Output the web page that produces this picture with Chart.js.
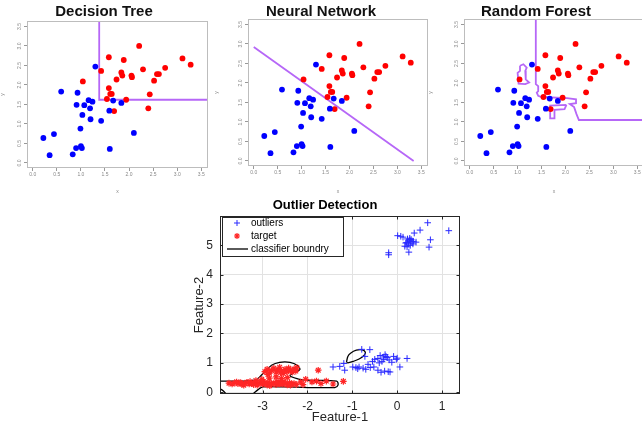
<!DOCTYPE html>
<html>
<head>
<meta charset="utf-8">
<script src="https://cdn.jsdelivr.net/npm/chart.js@4.4.1/dist/chart.umd.min.js"></script>
<style>
  html, body { margin: 0; padding: 0; background: #fff; overflow: hidden; }
  body { width: 642px; height: 424px; position: relative; }
  canvas { position: absolute; }
</style>
</head>
<body>
<canvas id="tree" width="224" height="195" style="left:0;top:0"></canvas>
<canvas id="net" width="243" height="195" style="left:214px;top:0"></canvas>
<canvas id="forest" width="243" height="195" style="left:428px;top:0"></canvas>
<canvas id="outlier" width="278" height="229" style="left:190px;top:195px"></canvas>
<script>
// ---- top three panels: same two classes ----
const axisTicks = [0, 0.5, 1, 1.5, 2, 2.5, 3, 3.5];

const blueX = [1.30, 0.59, 0.93, 1.16, 1.24, 0.91, 1.07, 1.19, 1.03, 1.20, 1.42, 0.99, 0.22, 0.44, 0.90, 1.00, 1.02, 0.35, 0.83, 1.60, 2.10, 1.59, 1.67, 1.84];
const blueY = [2.47, 1.83, 1.80, 1.61, 1.57, 1.49, 1.48, 1.40, 1.23, 1.12, 1.08, 0.88, 0.64, 0.74, 0.38, 0.43, 0.38, 0.20, 0.22, 0.36, 0.77, 1.34, 1.60, 1.54];

const redX = [2.21, 1.58, 1.89, 1.42, 1.84, 1.86, 1.74, 1.04, 2.05, 2.06, 2.29, 2.58, 2.62, 2.75, 2.52, 3.11, 3.28, 1.58, 1.61, 1.64, 1.54, 1.94, 1.69, 2.43, 2.40];
const redY = [3.00, 2.71, 2.64, 2.36, 2.32, 2.24, 2.14, 2.09, 2.24, 2.20, 2.40, 2.28, 2.28, 2.44, 2.11, 2.68, 2.52, 1.92, 1.77, 1.77, 1.64, 1.62, 1.33, 1.76, 1.40];

// decision boundaries
const treeX = [1.38, 1.38, 3.8];
const treeY = [3.8, 1.62, 1.62];
const netX = [0, 3.34];
const netY = [2.92, 0];
const forestMainX = [1.38, 1.38, 1.43, 1.43, 1.40, 1.43, 1.50, 2.03, 2.22, 2.22, 2.09, 2.18, 2.23, 2.28, 3.8];
const forestMainY = [3.8, 1.97, 1.92, 1.79, 1.75, 1.67, 1.64, 1.61, 1.58, 1.48, 1.46, 1.38, 1.20, 1.05, 1.05];
const forestIslandX = [1.05, 1.12, 1.19, 1.16, 1.17, 1.24, 1.16, 1.02, 1.00, 1.05, 1.05];
const forestIslandY = [2.44, 2.48, 2.39, 2.31, 2.09, 2.01, 1.97, 1.98, 2.26, 2.31, 2.44];
const forestInnerX = [2.02, 1.68, 1.68, 1.77, 1.77, 1.98, 2.02];
const forestInnerY = [1.44, 1.42, 1.09, 1.09, 1.31, 1.33, 1.44];

// ---- outlier detection panel ----
const featTicksX = [-3, -2, -1, 0, 1];
const featTicksY = [0, 1, 2, 3, 4, 5];

const outX = [0.68, 1.15, 0.51, 0.38, 0.01, 0.13, 0.08, 0.23, 0.27, 0.30, 0.21, 0.33, 0.36, 0.42, 0.28, 0.31, 0.25, 0.74, 0.17, 0.22, 0.29, 0.71, 0.26, -0.19, -0.19, 0.35, 0.19,
  -0.79, -0.61, -0.72, -0.43, -0.38, -0.30, -0.27, -0.22, -0.18, -0.08, -0.02, -0.34, -0.40, -0.12, 0.00, -0.25, -0.30, 0.22, -1.19, -1.43, -1.28, -1.17, -0.99, -0.92, -0.85, -0.76, -0.70, -0.60, -0.52, -0.88, -0.43, -0.36, -0.28, -0.20, -0.16, 0.06, -0.50, -0.55, -0.65];
const outY = [5.77, 5.50, 5.52, 5.42, 5.33, 5.28, 5.31, 5.22, 5.18, 5.15, 5.10, 5.12, 5.14, 5.11, 5.24, 5.20, 5.05, 5.19, 4.97, 4.95, 5.00, 4.94, 4.77, 4.75, 4.68, 5.05, 5.08,
  1.46, 1.45, 1.22, 1.15, 1.25, 1.20, 1.28, 1.18, 1.10, 1.22, 1.12, 1.05, 1.00, 1.02, 1.16, 1.22, 1.12, 1.15, 0.98, 0.86, 0.88, 0.75, 0.86, 0.84, 0.86, 0.82, 0.78, 0.84, 0.86, 0.80, 0.75, 0.68, 0.72, 0.70, 0.69, 0.86, 1.12, 1.05, 0.95];

const tgtX = [-3.75, -3.68, -3.62, -3.55, -3.50, -3.46, -3.40, -3.35, -3.30, -3.25, -3.20, -3.15, -3.10, -3.05, -3.00, -2.95, -2.90, -2.86, -2.80, -2.75, -2.70, -2.65, -2.60, -2.55, -2.50, -2.45, -2.40, -2.35, -2.30, -2.25,
  -3.58, -3.42, -3.28, -3.12, -2.98, -2.84, -2.68, -2.52, -2.38, -3.48, -3.22, -2.92, -2.62,
  -3.02, -2.85, -2.70, -2.58, -2.45, -3.15,
  -2.95, -2.90, -2.85, -2.80, -2.75, -2.70, -2.66, -2.62, -2.58, -2.54, -2.50, -2.46, -2.42, -2.38, -2.34, -2.30, -2.26, -2.24, -2.88, -2.60,
  -1.76, -2.04, -1.80, -1.58, -1.20, -2.10, -1.43, -1.90, -2.15, -1.70];
const tgtY = [0.31, 0.28, 0.32, 0.29, 0.33, 0.27, 0.30, 0.34, 0.28, 0.31, 0.26, 0.33, 0.29, 0.35, 0.27, 0.31, 0.25, 0.33, 0.28, 0.31, 0.26, 0.30, 0.34, 0.27, 0.30, 0.25, 0.32, 0.28, 0.30, 0.26,
  0.35, 0.24, 0.36, 0.24, 0.36, 0.22, 0.36, 0.35, 0.24, 0.31, 0.30, 0.29, 0.28,
  0.44, 0.48, 0.52, 0.47, 0.50, 0.40,
  0.70, 0.78, 0.65, 0.74, 0.82, 0.69, 0.76, 0.85, 0.72, 0.64, 0.78, 0.70, 0.82, 0.74, 0.68, 0.79, 0.72, 0.84, 0.60, 0.66,
  0.75, 0.44, 0.38, 0.38, 0.37, 0.26, 0.28, 0.35, 0.35, 0.30];

// classifier boundary contours
const bnd1X = [-3.95, -3.18, -2.99, -2.80, -2.62, -2.39, -2.23, -2.17, -2.28, -2.39, -2.20, -2.02, -1.35, -1.32, -1.39, -2.54, -2.99, -3.10, -3.20];
const bnd1Y = [0.38, 0.41, 0.64, 0.92, 1.02, 1.02, 0.92, 0.77, 0.69, 0.56, 0.45, 0.41, 0.38, 0.24, 0.16, 0.18, 0.18, 0.09, -0.03];
const bnd2X = [-1.13, -1.10, -1.04, -0.91, -0.78, -0.71, -0.74, -0.85, -0.98, -1.10, -1.13];
const bnd2Y = [1.03, 1.22, 1.33, 1.43, 1.44, 1.36, 1.25, 1.13, 1.05, 1.00, 1.03];
const bnd3X = [-3.95, -3.88, -3.82];
const bnd3Y = [0.12, 0.05, -0.05];

const pts = (xs, ys) => xs.map((x, i) => ({ x: x, y: ys[i] }));

Chart.defaults.font.family = "'Liberation Sans', Arial, sans-serif";

// box around the plot area, optional inward ticks (matlab style)
const framePlugin = {
  id: 'frame',
  afterDatasetsDraw(chart, args, opts) {
    const { ctx, chartArea: a } = chart;
    ctx.save();
    ctx.strokeStyle = opts.color;
    ctx.lineWidth = opts.width;
    const l = Math.round(a.left) + 0.5, t = Math.round(a.top) + 0.5;
    const r = Math.round(a.right) - 0.5, b = Math.round(a.bottom) - 0.5;
    ctx.strokeRect(l, t, r - l, b - t);
    if (opts.innerTicks) {
      const len = opts.innerTicks;
      const sx = chart.scales.x, sy = chart.scales.y;
      ctx.beginPath();
      sx.ticks.forEach(tk => {
        const p = Math.round(sx.getPixelForValue(tk.value)) + 0.5;
        ctx.moveTo(p, b); ctx.lineTo(p, b - len);
        ctx.moveTo(p, t); ctx.lineTo(p, t + len);
      });
      sy.ticks.forEach(tk => {
        const p = Math.round(sy.getPixelForValue(tk.value)) + 0.5;
        ctx.moveTo(l, p); ctx.lineTo(l + len, p);
        ctx.moveTo(r, p); ctx.lineTo(r - len, p);
      });
      ctx.stroke();
    }
    ctx.restore();
  }
};

// legend box inside the top-left corner of the plot
const boxLegend = {
  id: 'boxLegend',
  afterDraw(chart) {
    const { ctx, chartArea: a } = chart;
    const x0 = Math.round(a.left) + 2, y0 = Math.round(a.top) + 1, w = 122, h = 40;
    ctx.save();
    ctx.fillStyle = '#fff';
    ctx.fillRect(x0, y0, w, h);
    ctx.strokeStyle = '#262626';
    ctx.lineWidth = 1;
    ctx.strokeRect(x0 + 0.5, y0 + 0.5, w - 1, h - 1);
    ctx.font = "10px 'Liberation Sans', Arial, sans-serif";
    ctx.textBaseline = 'middle';
    const rows = chart.data.datasets.filter(d => d.legend);
    rows.forEach((d, i) => {
      const y = y0 + 6 + i * 13;
      const mx = x0 + 15;
      ctx.strokeStyle = d.borderColor;
      ctx.lineWidth = d.borderWidth;
      ctx.beginPath();
      if (d.showLine) {
        ctx.moveTo(x0 + 5, y); ctx.lineTo(x0 + 26, y);
      } else {
        const r = 3;
        ctx.moveTo(mx - r, y); ctx.lineTo(mx + r, y);
        ctx.moveTo(mx, y - r); ctx.lineTo(mx, y + r);
        if (d.pointStyle === 'star') {
          const q = r * 0.72;
          ctx.moveTo(mx - q, y - q); ctx.lineTo(mx + q, y + q);
          ctx.moveTo(mx - q, y + q); ctx.lineTo(mx + q, y - q);
        }
      }
      ctx.stroke();
      ctx.fillStyle = '#000';
      ctx.fillText(d.label, x0 + 29, y);
    });
    ctx.restore();
  }
};

function topPanel(id, title, lines, box) {
  const datasets = [
    { data: pts(blueX, blueY), pointRadius: 2.9, pointBorderWidth: 0, backgroundColor: '#0000ff', borderColor: '#0000ff' },
    { data: pts(redX, redY), pointRadius: 2.9, pointBorderWidth: 0, backgroundColor: '#ff0000', borderColor: '#ff0000' }
  ];
  lines.forEach(ln => {
    datasets.push({ data: pts(ln[0], ln[1]), showLine: true, pointRadius: 0, borderColor: '#b667f7', borderWidth: 1.8, fill: false });
  });
  const tinyTicks = { font: { size: 5 }, color: '#888', padding: 1, callback: v => v.toFixed(1) };
  new Chart(document.getElementById(id), {
    type: 'scatter',
    data: { datasets: datasets },
    plugins: [framePlugin],
    options: {
      responsive: false,
      animation: false,
      events: [],
      layout: { padding: { left: 0, right: box.padRight, top: 0, bottom: 0 } },
      plugins: {
        legend: { display: false },
        tooltip: { enabled: false },
        title: {
          display: true, text: title, color: '#111',
          font: { size: 15, weight: 'bold', lineHeight: 1 },
          padding: { top: 4, bottom: box.titleBottom }
        },
        frame: { color: '#bdbdbd', width: 1 }
      },
      scales: {
        x: {
          type: 'linear', min: -0.12, max: 3.64,
          afterBuildTicks: s => { s.ticks = axisTicks.map(v => ({ value: v })); },
          afterFit: s => { s.height = box.xHeight; },
          grid: { drawOnChartArea: false, tickLength: 3, color: '#999' },
          border: { display: false },
          ticks: Object.assign({ maxRotation: 0 }, tinyTicks),
          title: { display: true, text: 'x', font: { size: 5 }, color: '#888', padding: 0 }
        },
        y: {
          type: 'linear', min: -0.13, max: 3.64,
          afterBuildTicks: s => { s.ticks = axisTicks.map(v => ({ value: v })); },
          afterFit: s => { s.width = box.yWidth; },
          grid: { drawOnChartArea: false, tickLength: 3, color: '#999' },
          border: { display: false },
          ticks: Object.assign({ minRotation: 90, maxRotation: 90, crossAlign: 'center' }, tinyTicks),
          title: { display: true, text: 'y', font: { size: 5 }, color: '#888', padding: 0 }
        }
      }
    }
  });
}

topPanel('tree', 'Decision Tree', [[treeX, treeY]], { padRight: 16, yWidth: 27, xHeight: 27, titleBottom: 2 });
topPanel('net', 'Neural Network', [[netX, netY]], { padRight: 29, yWidth: 34, xHeight: 29, titleBottom: 0 });
topPanel('forest', 'Random Forest', [[forestMainX, forestMainY], [forestIslandX, forestIslandY], [forestInnerX, forestInnerY]], { padRight: 27, yWidth: 36, xHeight: 29, titleBottom: 0 });

// outlier detection
const lineSet = (xs, ys, label) => ({
  label: label, legend: !!label, data: pts(xs, ys), showLine: true, pointRadius: 0,
  borderColor: '#000', borderWidth: 1.3, tension: 0.35, fill: false
});

new Chart(document.getElementById('outlier'), {
  type: 'scatter',
  data: {
    datasets: [
      { label: 'outliers', legend: true, data: pts(outX, outY), pointStyle: 'cross', pointRadius: 3.3, borderColor: '#2a2aff', backgroundColor: 'rgba(0,0,0,0)', borderWidth: 1 },
      { label: 'target', legend: true, data: pts(tgtX, tgtY), pointStyle: 'star', pointRadius: 3.3, borderColor: '#ff2626', backgroundColor: 'rgba(0,0,0,0)', borderWidth: 1.2 },
      lineSet(bnd1X, bnd1Y, 'classifier boundry'),
      lineSet(bnd2X, bnd2Y),
      lineSet(bnd3X, bnd3Y)
    ]
  },
  plugins: [framePlugin, boxLegend],
  options: {
    responsive: false,
    animation: false,
    events: [],
    layout: { padding: { left: 0, right: 8, top: 0, bottom: 0 } },
    plugins: {
      legend: { display: false },
      tooltip: { enabled: false },
      title: {
        display: true, text: 'Outlier Detection', color: '#000',
        font: { size: 13, weight: 'bold', lineHeight: 1 },
        padding: { top: 4, bottom: 4 }
      },
      frame: { color: '#262626', width: 1, innerTicks: 3 }
    },
    scales: {
      x: {
        type: 'linear', min: -3.95, max: 1.40,
        afterBuildTicks: s => { s.ticks = featTicksX.map(v => ({ value: v })); },
        afterFit: s => { s.height = 30; },
        grid: { color: '#e2e2e2', drawTicks: false },
        border: { display: false },
        ticks: { color: '#262626', font: { size: 12 }, padding: 5, maxRotation: 0, callback: v => String(v) },
        title: { display: true, text: 'Feature-1', color: '#262626', font: { size: 13, lineHeight: 1 }, padding: { top: 0, bottom: 0 } }
      },
      y: {
        type: 'linear', min: -0.06, max: 6.0,
        afterBuildTicks: s => { s.ticks = featTicksY.map(v => ({ value: v })); },
        afterFit: s => { s.width = 30; },
        grid: { color: '#e2e2e2', drawTicks: false },
        border: { display: false },
        ticks: { color: '#262626', font: { size: 12 }, padding: 7, callback: v => String(v) },
        title: { display: true, text: 'Feature-2', color: '#262626', font: { size: 13 }, padding: { top: 2, bottom: 0 } }
      }
    }
  }
});
</script>
</body>
</html>
